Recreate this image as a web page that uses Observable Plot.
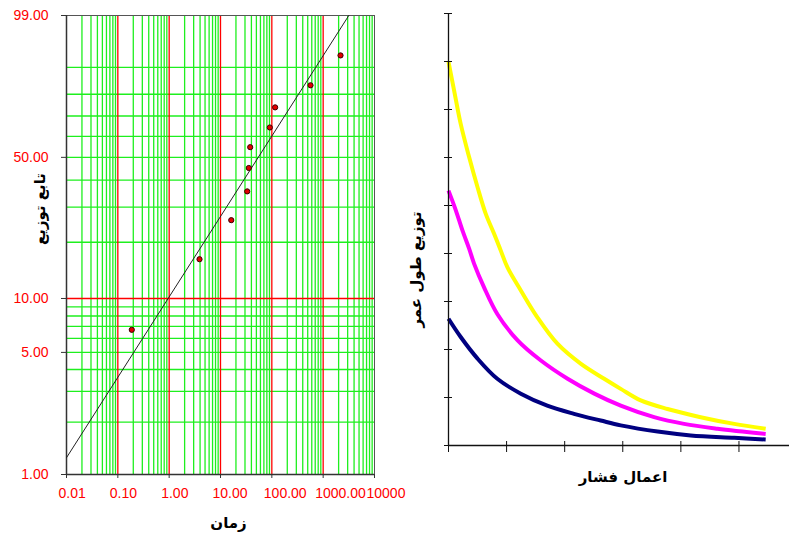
<!DOCTYPE html>
<html>
<head>
<meta charset="utf-8">
<script src="https://cdn.jsdelivr.net/npm/d3@7"></script>
<script src="https://cdn.jsdelivr.net/npm/@observablehq/plot@0.6"></script>
<style>
  html, body { margin: 0; padding: 0; background: #fff; }
  #wrap { position: relative; width: 789px; height: 536px; overflow: hidden; background: #fff; }
  #left, #right { position: absolute; top: 0; }
  #left { left: 0; z-index: 2; }
  #right { left: 400px; z-index: 1; }
</style>
</head>
<body>
<div id="wrap"><div id="left"></div><div id="right"></div></div>
<script>
// ---------- Left panel data (Weibull probability plot) ----------
const failTimes = [0.187, 3.9, 16.2, 33.1, 35.6, 37.9, 91.4, 116, 567, 2178];
const failRanks = [6.7, 16.3, 25.9, 35.6, 45.2, 54.8, 64.4, 74.1, 83.7, 93.3];
const fitTimes = [0.01, 3160];
const fitRanks = [1.25, 99];
const decades = [0.01, 0.1, 1, 10, 100, 1000];
const minorMult = [2, 3, 4, 5, 6, 7, 8, 9];
const majorX = [0.1, 1, 10, 100, 1000];
const gridRanks = [2, 3, 4, 5, 6, 7, 8, 9, 20, 30, 40, 50, 60, 70, 80, 90];
const redRanks = [10];
const yTickRanks = [1, 5, 10, 50, 99];
const yTickLabels = ["1.00", "5.00", "10.00", "50.00", "99.00"];
const xTickValues = [0.01, 0.1, 1, 10, 100, 1000, 10000];
const xTickLabels = ["0.01", "0.10", "1.00", "10.00", "100.00", "1000.00", "10000"];

// ---------- Right panel data (life distribution vs stress) ----------
const stressYellow = [0, 0.096, 0.21, 0.355, 0.50, 0.64, 0.785, 0.90, 1.015, 1.245, 1.53, 1.875, 2.28, 2.68, 2.965, 3.31, 3.77, 4.34, 4.92, 5.46];
const lifeYellow   = [7.99, 7.40, 6.70, 6.01, 5.38, 4.83, 4.41, 4.06, 3.71, 3.23, 2.67, 2.12, 1.70, 1.39, 1.18, 0.94, 0.76, 0.59, 0.45, 0.35];
const stressMagenta = [0, 0.126, 0.24, 0.355, 0.44, 0.61, 0.84, 1.19, 1.59, 2.05, 2.51, 2.965, 3.54, 4.055, 4.63, 5.46];
const lifeMagenta   = [5.31, 4.90, 4.48, 4.10, 3.79, 3.30, 2.74, 2.19, 1.77, 1.39, 1.08, 0.83, 0.59, 0.45, 0.35, 0.24];
const stressNavy = [0, 0.21, 0.50, 0.84, 1.245, 1.70, 2.16, 2.62, 2.965, 3.60, 4.17, 4.92, 5.46];
const lifeNavy   = [2.64, 2.26, 1.81, 1.39, 1.08, 0.83, 0.66, 0.52, 0.42, 0.29, 0.21, 0.16, 0.125];
const rightYTicks = [0, 1, 2, 3, 4, 5, 6, 7, 8, 9];
const rightXTicks = [0, 1, 2, 3, 4, 5];

const GREEN = "#1eef1e", RED = "#ff0000";
const NUMFONT = "Liberation Sans, Arial, sans-serif";
const ARFONT = "DejaVu Sans, sans-serif";
const weib = F => Math.log(-Math.log(1 - F / 100));

const minorX = decades.flatMap(d => minorMult.map(m => m * d));
const points = failTimes.map((t, i) => ({t, w: weib(failRanks[i])}));
const fit = fitTimes.map((t, i) => ({t, w: weib(fitRanks[i])}));

const left = Plot.plot({
  width: 400, height: 536,
  marginLeft: 66, marginRight: 26, marginTop: 15, marginBottom: 62,
  x: {type: "log", domain: [0.01, 10000], axis: null},
  y: {domain: [weib(1), weib(99)], axis: null},
  style: {background: "transparent", overflow: "visible"},
  marks: [
    Plot.ruleX(minorX, {stroke: GREEN, strokeWidth: 1.3}),
    Plot.ruleY(gridRanks.map(weib), {stroke: GREEN, strokeWidth: 1.3}),
    Plot.ruleY(redRanks.map(weib), {stroke: RED, strokeWidth: 1.3}),
    Plot.ruleX(majorX, {stroke: RED, strokeWidth: 1.3}),
    Plot.frame({stroke: "#555", strokeWidth: 1}),
    Plot.ruleX([0.01], {stroke: "#333", strokeWidth: 1.5}),
    Plot.ruleY([weib(1)], {stroke: "#333", strokeWidth: 1.5}),
    Plot.axisY({ticks: yTickRanks.map(weib), tickSize: 5, tickFormat: () => "", label: null, stroke: "#333"}),
    Plot.axisX({ticks: xTickValues, tickSize: 4, tickFormat: () => "", label: null, stroke: "#333"}),
    Plot.text(yTickRanks, {y: d => weib(d), text: (d, i) => yTickLabels[i], frameAnchor: "left",
      textAnchor: "end", lineAnchor: "middle", dx: -18, fill: RED, fontSize: 14, fontFamily: NUMFONT}),
    Plot.text(xTickValues, {x: d => d, text: (d, i) => xTickLabels[i], frameAnchor: "bottom",
      textAnchor: "start", lineAnchor: "middle", dx: -8, dy: 19, fill: RED, fontSize: 14, fontFamily: NUMFONT}),
    Plot.line(fit, {x: "t", y: "w", stroke: "#222", strokeWidth: 1}),
    Plot.dot(points, {x: "t", y: "w", r: 2.6, fill: "#e00000", stroke: "#3a0000", strokeWidth: 1}),
    Plot.text(["زمان"], {frameAnchor: "bottom", textAnchor: "middle", lineAnchor: "middle", dx: 8, dy: 49,
      fontSize: 15, fontWeight: "bold", fontFamily: ARFONT, fill: "#000"}),
    Plot.text(["تابع توزیع"], {frameAnchor: "left", textAnchor: "middle", lineAnchor: "middle", dx: -26, dy: -36,
      rotate: -90, fontSize: 15, fontWeight: "bold", fontFamily: ARFONT, fill: "#000"})
  ]
});

const series = [
  {name: "yellow", color: "#ffff00", xs: stressYellow, ys: lifeYellow},
  {name: "magenta", color: "#ff00ff", xs: stressMagenta, ys: lifeMagenta},
  {name: "navy", color: "#000080", xs: stressNavy, ys: lifeNavy}
];

const right = Plot.plot({
  width: 389, height: 536,
  marginLeft: 48, marginRight: 0, marginTop: 13, marginBottom: 91,
  x: {domain: [0, 5.87], axis: null},
  y: {domain: [0, 9], axis: null},
  style: {background: "transparent", overflow: "visible"},
  marks: [
    ...series.map(s => Plot.line(s.xs.map((x, i) => ({x, y: s.ys[i]})),
      {x: "x", y: "y", stroke: s.color, strokeWidth: 4, strokeLinecap: "butt", curve: "catmull-rom"})),
    Plot.ruleX([0], {y1: 0, y2: 9, stroke: "#111", strokeWidth: 1.3}),
    Plot.ruleY([0], {stroke: "#111", strokeWidth: 1.3}),
    Plot.axisY({ticks: rightYTicks, tickSize: 8, dx: 4, tickFormat: () => "", label: null, stroke: "#111"}),
    Plot.axisX({ticks: rightXTicks, tickSize: 11, dy: -4, tickFormat: () => "", label: null, stroke: "#111"}),
    Plot.text(["اعمال فشار"], {frameAnchor: "bottom", textAnchor: "middle", lineAnchor: "middle", dx: 4, dy: 32,
      fontSize: 15, fontWeight: "bold", fontFamily: ARFONT, fill: "#000"}),
    Plot.text(["توزیع طول عمر"], {frameAnchor: "left", textAnchor: "middle", lineAnchor: "middle", dx: -32, dy: 40,
      rotate: -90, fontSize: 15, fontWeight: "bold", fontFamily: ARFONT, fill: "#000"})
  ]
});

document.getElementById("left").appendChild(left);
document.getElementById("right").appendChild(right);
</script>
</body>
</html>
